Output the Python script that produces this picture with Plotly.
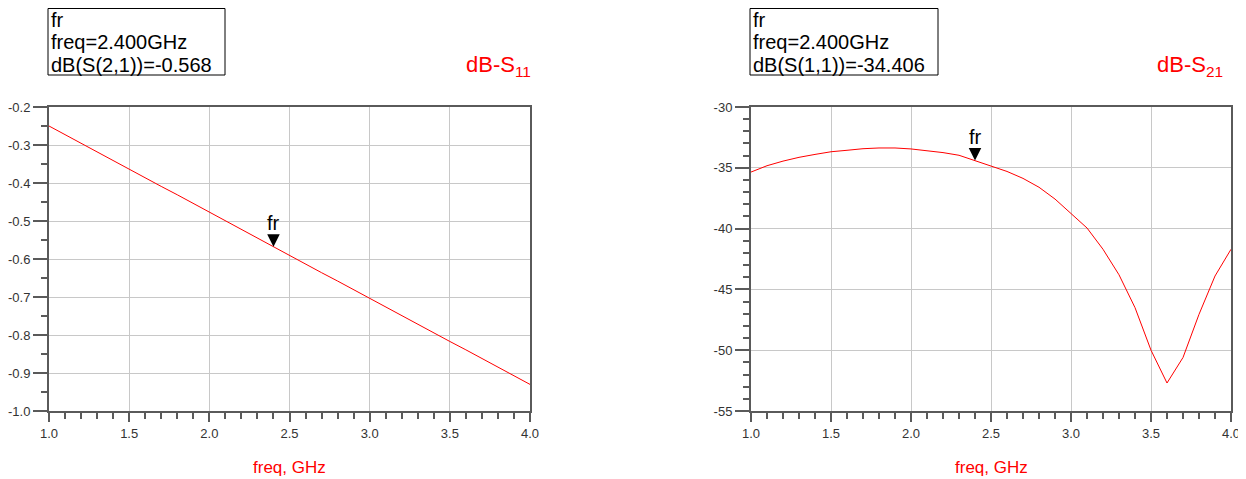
import plotly.graph_objects as go

# The page body adds an 8 px margin, so the figure is sized to the visible area
OFF = 8
W, H = 1246 - OFF, 479 - OFF

# ---------------- data ----------------
freq = [1.0, 1.1, 1.2, 1.3, 1.4, 1.5, 1.6, 1.7, 1.8, 1.9, 2.0,
        2.1, 2.2, 2.3, 2.4, 2.5, 2.6, 2.7, 2.8, 2.9, 3.0,
        3.1, 3.2, 3.3, 3.4, 3.5, 3.6, 3.7, 3.8, 3.9, 4.0]

db_s21 = [-0.250, -0.273, -0.295, -0.318, -0.341, -0.363, -0.386, -0.409, -0.431, -0.454, -0.477,
          -0.499, -0.522, -0.545, -0.568, -0.590, -0.613, -0.636, -0.658, -0.681, -0.703,
          -0.726, -0.749, -0.771, -0.794, -0.817, -0.839, -0.862, -0.885, -0.907, -0.930]

db_s11 = [-35.35, -34.83, -34.45, -34.14, -33.90, -33.68, -33.56, -33.43, -33.37, -33.37, -33.45,
          -33.59, -33.75, -33.97, -34.406, -34.80, -35.30, -35.87, -36.60, -37.57, -38.75,
          -39.95, -41.70, -43.80, -46.50, -50.00, -52.70, -50.60, -47.05, -43.90, -41.70]

marker_freq = 2.4
marker_left_val = -0.568
marker_right_val = -34.406

x_tickvals = [1.0, 1.5, 2.0, 2.5, 3.0, 3.5, 4.0]
x_ticktext = ["1.0", "1.5", "2.0", "2.5", "3.0", "3.5", "4.0"]

yl_tickvals = [-0.2, -0.3, -0.4, -0.5, -0.6, -0.7, -0.8, -0.9, -1.0]
yl_ticktext = ["-0.2", "-0.3", "-0.4", "-0.5", "-0.6", "-0.7", "-0.8", "-0.9", "-1.0"]

yr_tickvals = [-30, -35, -40, -45, -50, -55]
yr_ticktext = ["-30", "-35", "-40", "-45", "-50", "-55"]

left_box_lines = ["fr", "freq=2.400GHz", "dB(S(2,1))=-0.568"]
right_box_lines = ["fr", "freq=2.400GHz", "dB(S(1,1))=-34.406"]

left_title = "dB-S<sub>11</sub>"
right_title = "dB-S<sub>21</sub>"
x_title = "freq, GHz"

# ---------------- helpers (screen px -> paper) ----------------
def px(x):
    return (x - OFF) / W

def py(y):
    return 1 - (y - OFF) / H

FONT = "Liberation Sans, Arial, sans-serif"
AXC = "#5a5a5a"
GRIDC = "#c8c8c8"
RED = "#ff0000"
TICKFONT = dict(family=FONT, size=13, color="#333333")

fig = go.Figure()
fig.add_trace(go.Scatter(x=freq, y=db_s21, mode="lines",
                         line=dict(color=RED, width=1), xaxis="x", yaxis="y",
                         hoverinfo="skip", showlegend=False))
fig.add_trace(go.Scatter(x=freq, y=db_s11, mode="lines",
                         line=dict(color=RED, width=1), xaxis="x2", yaxis="y2",
                         hoverinfo="skip", showlegend=False))

def xaxis_cfg(domain, anchor):
    return dict(domain=domain, anchor=anchor, range=[1.0, 4.0], automargin=False,
                tickmode="array", tickvals=x_tickvals, ticktext=x_ticktext,
                ticks="outside", ticklen=9, tickwidth=2, tickcolor=AXC,
                showline=True, linecolor=AXC, linewidth=2, mirror=True,
                showgrid=True, gridcolor=GRIDC, gridwidth=1, zeroline=False,
                tickfont=TICKFONT,
                minor=dict(tickmode="linear", tick0=1.0, dtick=0.1, ticks="outside",
                           ticklen=6, tickwidth=1.5, tickcolor=AXC, showgrid=False),
                fixedrange=True)

def yaxis_cfg(domain, anchor, rng, tv, tt, mdt):
    return dict(domain=domain, anchor=anchor, range=rng, automargin=False,
                tickmode="array", tickvals=tv, ticktext=tt,
                ticks="outside", ticklen=14, tickwidth=2, tickcolor=AXC,
                showline=True, linecolor=AXC, linewidth=2, mirror=True,
                showgrid=True, gridcolor=GRIDC, gridwidth=1, zeroline=False,
                tickfont=TICKFONT,
                ticklabelstandoff=0,
                minor=dict(tickmode="linear", tick0=rng[0], dtick=mdt, ticks="outside",
                           ticklen=6, tickwidth=1.5, tickcolor=AXC, showgrid=False),
                fixedrange=True)

ydom = [py(411), py(107)]
fig.update_layout(
    width=W, height=H,
    margin=dict(l=0, r=0, t=0, b=0, pad=0, autoexpand=False),
    paper_bgcolor="white", plot_bgcolor="white",
    showlegend=False,
    xaxis=xaxis_cfg([px(49), px(530)], "y"),
    yaxis=yaxis_cfg(ydom, "x", [-1.0, -0.2], yl_tickvals, yl_ticktext, 0.05),
    xaxis2=xaxis_cfg([px(751), px(1231)], "y2"),
    yaxis2=yaxis_cfg(ydom, "x2", [-55, -30], yr_tickvals, yr_ticktext, 1),
)

annotations = []
shapes = []

# marker readout boxes
line_centers = [19.6, 42.1, 64.6]
for x0, x1, lines in [(48, 225, left_box_lines), (750, 938, right_box_lines)]:
    shapes.append(dict(type="rect", xref="paper", yref="paper",
                       x0=px(x0), x1=px(x1), y0=py(75), y1=py(8.5),
                       line=dict(color="black", width=1), fillcolor="rgba(0,0,0,0)"))
    for t, cy in zip(lines, line_centers):
        annotations.append(dict(xref="paper", yref="paper", x=px(x0 + 1.5), y=py(cy),
                                xanchor="left", yanchor="middle", text=t, showarrow=False,
                                borderpad=0,
                                font=dict(family=FONT, size=20, color="black")))

# chart titles
annotations.append(dict(xref="paper", yref="paper", x=px(533), y=py(66), xanchor="right",
                        yanchor="middle", text=left_title, showarrow=False,
                        font=dict(family=FONT, size=22, color=RED)))
annotations.append(dict(xref="paper", yref="paper", x=px(1225), y=py(66), xanchor="right",
                        yanchor="middle", text=right_title, showarrow=False,
                        font=dict(family=FONT, size=22, color=RED)))

# x-axis titles
for cx in [(49 + 530) / 2, (751 + 1231) / 2]:
    annotations.append(dict(xref="paper", yref="paper", x=px(cx), y=py(467), xanchor="center",
                            yanchor="middle", text=x_title, showarrow=False,
                            font=dict(family=FONT, size=17, color=RED)))

# "fr" markers (triangle + label)
for xr, yr, v in [("x", "y", marker_left_val), ("x2", "y2", marker_right_val)]:
    annotations.append(dict(xref=xr, yref=yr, x=marker_freq, y=v, text=" ",
                            showarrow=True, ax=0, ay=-12, arrowhead=2, arrowsize=2.5,
                            arrowwidth=1, arrowcolor="black", standoff=0,
                            font=dict(size=1)))
    annotations.append(dict(xref=xr, yref=yr, x=marker_freq, y=v, text="fr",
                            showarrow=False, yshift=24, xanchor="center", yanchor="middle",
                            font=dict(family=FONT, size=20, color="black")))

fig.update_layout(annotations=annotations, shapes=shapes)

fig.write_html("out.html")
